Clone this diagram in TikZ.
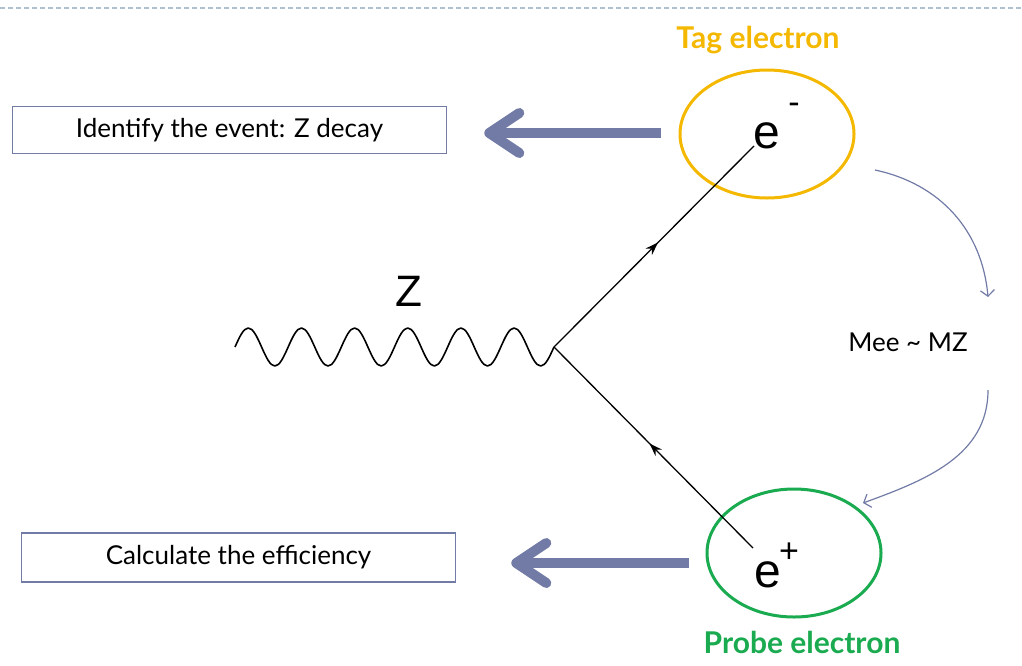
\documentclass[tikz,border=0pt]{standalone}
\usepackage{fontspec}
\setmainfont{Lato}
\newfontfamily\arialfont{Liberation Sans}
\usepackage{xcolor}
\usepackage{tikz}
\usetikzlibrary{arrows.meta, positioning, shapes.geometric, decorations.markings}

\definecolor{tagcol}{HTML}{F5B800}
\definecolor{probecol}{HTML}{1AAA4F}
\definecolor{slate}{HTML}{717BA6}
\definecolor{dashcol}{HTML}{AFC0D0}

\tikzset{
    textbox/.style={draw=slate, line width=1.6pt, minimum width=434pt, minimum height=47pt, inner sep=0pt, font=\fontsize{26}{30}\selectfont},
    particle/.style={ellipse, draw, line width=3pt, minimum width=174pt, minimum height=128pt, inner sep=0pt},
    caption/.style={font=\bfseries\fontsize{30}{34}\selectfont},
    glyph/.style={font=\arialfont\fontsize{48}{48}\selectfont, inner sep=0pt},
    charge/.style={font=\arialfont\fontsize{34}{34}\selectfont, inner sep=0pt},
    bigarrow/.style={slate, line width=10pt, -{Straight Barb[round, length=30pt, width=40pt]}},
    fermion/.style={line width=1.3pt, postaction={decorate}, decoration={markings, mark=at position 0.52 with {\arrow{Stealth[length=13pt, width=9pt]}}}},
    boson/.style={line width=1.6pt, line join=round},
    massarrow/.style={slate, line width=1.2pt, -{Straight Barb[length=6pt, width=14pt]}}
}

\begin{document}
\begin{tikzpicture}[x=1pt, y=1pt, node distance=90pt, on grid]
        \useasboundingbox (0,0) rectangle (1022,-665);
        \draw[dashcol, line width=1.2pt, dash pattern=on 5pt off 3pt] (0,-8) -- (1022,-8);

        \node[particle, draw=tagcol] (tag) at (767,-134) {};
        \node[particle, draw=probecol] (probe) at (794,-553) {};
        \node[caption, tagcol, above=94pt of tag, xshift=-9pt] (tagtxt) {Tag electron};
        \node[caption, probecol, below=89pt of probe, xshift=8pt] (probetxt) {Probe electron};

        \node[glyph] (em) at (767,-136) {e};
        \node[charge] (emsign) at (794,-108) {-};
        \node[glyph] (ep) at (768,-575) {e};
        \node[charge] (epsign) at (789,-553) {+};

        \coordinate (zstart) at (235,-347);
        \coordinate (vtx) at (554,-347);
        \coordinate (tagend) at (754,-146);
        \coordinate (probeend) at (753,-548);
        \node[glyph, font=\arialfont\fontsize{44}{44}\selectfont] (zlbl) at (409,-291) {Z};

        \draw[boson] (zstart)
            \foreach \k in {1,...,6} {sin ++(13.29,19) cos ++(13.29,-19) sin ++(13.29,-19) cos ++(13.29,19)};
        \draw[fermion] (vtx) -- (tagend);
        \draw[fermion] (probeend) -- (vtx);

        \node[textbox] (idbox) at (229.5,-130) {Identify the event: Z decay};
        \node[textbox, minimum height=49pt] (calcbox) at (238.5,-557.5) {Calculate the efficiency};
        \draw[bigarrow] ([xshift=-18pt, yshift=1pt]tag.west) -- ([xshift=37pt, yshift=-3pt]idbox.east);
        \draw[bigarrow] ([xshift=-17pt, yshift=-10pt]probe.west) -- ([xshift=55pt, yshift=-5.5pt]calcbox.east);

        \node[font=\fontsize{26}{30}\selectfont] (mee) at (908,-342) {Mee \textasciitilde{} MZ};
        \coordinate (m1) at (875,-170);
        \coordinate (m2) at (988,-297);
        \coordinate (m3) at (988,-390);
        \coordinate (m4) at (863,-503);
        \draw[massarrow] (m1) to[out=-12, in=95] (m2);
        \draw[massarrow] (m3) to[out=-90, in=20] (m4);
\end{tikzpicture}
\end{document}
